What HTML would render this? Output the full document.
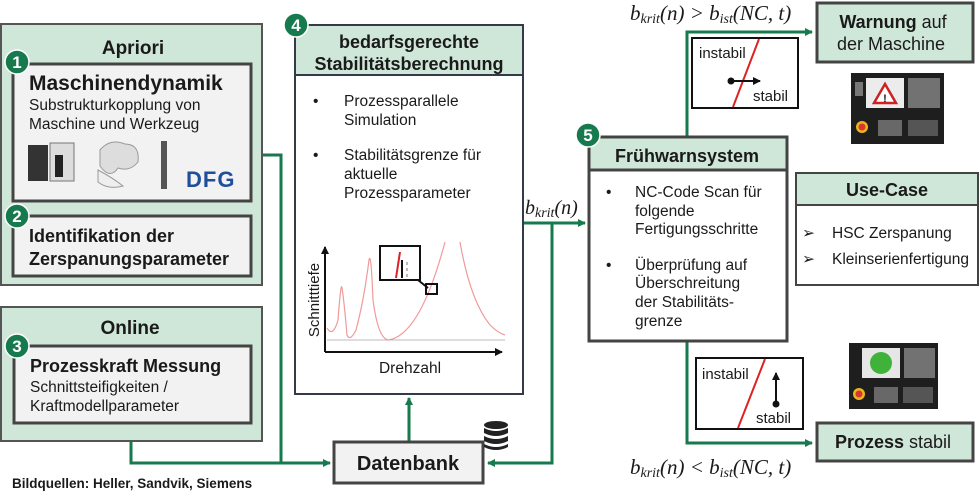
<!DOCTYPE html>
<html><head><meta charset="utf-8"><style>
html,body{margin:0;padding:0;background:#fff;width:980px;height:494px;overflow:hidden}
svg{display:block}
text{font-family:"Liberation Sans",sans-serif;fill:#1a1a1a}
.b{font-weight:bold}
.m{font-family:"Liberation Serif",serif;font-style:italic}
</style></head><body>
<svg width="980" height="494" viewBox="0 0 980 494" xmlns="http://www.w3.org/2000/svg">
<defs>
<marker id="ar" markerWidth="8" markerHeight="8" refX="7" refY="4" orient="auto" markerUnits="userSpaceOnUse">
<path d="M0,0 L8,4 L0,8 z" fill="#177a4e"/></marker>
<marker id="ak" markerWidth="8" markerHeight="8" refX="7" refY="4" orient="auto" markerUnits="userSpaceOnUse">
<path d="M0,0 L8,4 L0,8 z" fill="#111"/></marker>
</defs>

<!-- connectors -->
<g stroke="#177a4e" stroke-width="3" fill="none">
<polyline points="262,155 281,155 281,463 330,463" marker-end="url(#ar)"/>
<polyline points="131,441 131,463 281,463"/>
<polyline points="409,442 409,398" marker-end="url(#ar)"/>
<polyline points="523,223 585,223" marker-end="url(#ar)"/>
<polyline points="552,223 552,463 488,463" marker-end="url(#ar)"/>
<polyline points="687,137 687,32 812,32" marker-end="url(#ar)"/>
<polyline points="687,341 687,443 812,443" marker-end="url(#ar)"/>
</g>

<!-- Apriori -->
<rect x="1" y="24" width="261" height="261" fill="#cfe7d8" stroke="#555" stroke-width="2"/>
<text x="133" y="54" class="b" font-size="19" text-anchor="middle">Apriori</text>
<rect x="13" y="64" width="238" height="137" fill="#f2f2f2" stroke="#444" stroke-width="3"/>
<text x="29" y="90" class="b" font-size="21">Maschinendynamik</text>
<text x="29" y="110" font-size="15.5">Substrukturkopplung von</text>
<text x="29" y="129" font-size="15.5">Maschine und Werkzeug</text>
<!-- machine image -->
<rect x="28" y="145" width="20" height="36" fill="#333"/>
<rect x="50" y="143" width="24" height="38" fill="#ddd" stroke="#777"/>
<rect x="55" y="155" width="8" height="22" fill="#222"/>
<path d="M100,150 q10,-12 25,-6 q15,0 13,18 q-8,10 -20,6 q-8,12 -18,-2 z" fill="#ddd" stroke="#999"/>
<path d="M98,170 q15,8 25,16 q-15,4 -25,-4 z" fill="#eee" stroke="#999"/>
<rect x="161" y="141" width="6" height="48" fill="#555"/>
<text x="186" y="187" class="b" font-size="22" style="fill:#1f4f9a;letter-spacing:1px">DFG</text>
<rect x="13" y="216" width="238" height="60" fill="#f2f2f2" stroke="#444" stroke-width="3"/>
<text x="29" y="242" class="b" font-size="18">Identifikation der</text>
<text x="29" y="265" class="b" font-size="18">Zerspanungsparameter</text>

<!-- Online -->
<rect x="1" y="307" width="261" height="134" fill="#cfe7d8" stroke="#555" stroke-width="2"/>
<text x="130" y="334" class="b" font-size="19" text-anchor="middle">Online</text>
<rect x="14" y="346" width="237" height="77" fill="#f2f2f2" stroke="#444" stroke-width="3"/>
<text x="30" y="372" class="b" font-size="18">Prozesskraft Messung</text>
<text x="30" y="392" font-size="15.5">Schnittsteifigkeiten /</text>
<text x="30" y="411" font-size="15.5">Kraftmodellparameter</text>

<!-- Box 4 -->
<rect x="295" y="25" width="228" height="369" fill="#fff" stroke="#333a48" stroke-width="2"/>
<rect x="295" y="25" width="228" height="50" fill="#cfe7d8" stroke="#333a48" stroke-width="2"/>
<text x="409" y="48" class="b" font-size="18" text-anchor="middle">bedarfsgerechte</text>
<text x="409" y="70" class="b" font-size="18" text-anchor="middle">Stabilitätsberechnung</text>
<g font-size="15.5">
<text x="313" y="106">•</text><text x="344" y="106">Prozessparallele</text><text x="344" y="125">Simulation</text>
<text x="313" y="160">•</text><text x="344" y="160">Stabilitätsgrenze für</text><text x="344" y="179">aktuelle</text><text x="344" y="198">Prozessparameter</text>
</g>
<!-- chart -->
<line x1="327" y1="340" x2="505" y2="340" stroke="#bbb" stroke-width="1"/>
<path d="M327,328 Q333,338 338,320 Q341,280 342,288 Q344,300 347,335 Q350,342 356,330 Q364,300 369,260 Q371,250 373,300 Q378,338 388,340 Q420,336 445,242 M460,242 Q470,300 490,325 Q498,333 505,335" fill="none" stroke="#f09a9a" stroke-width="1.2"/>
<line x1="325" y1="352" x2="325" y2="247" stroke="#111" stroke-width="2" marker-end="url(#ak)"/>
<line x1="325" y1="352" x2="502" y2="352" stroke="#111" stroke-width="2" marker-end="url(#ak)"/>
<rect x="380" y="246" width="40" height="34" fill="#fff" stroke="#111" stroke-width="2"/>
<path d="M400,252 L396,278" stroke="#d22" stroke-width="2"/>
<line x1="402" y1="260" x2="402" y2="278" stroke="#111" stroke-width="2"/>
<line x1="407" y1="262" x2="407" y2="278" stroke="#777" stroke-dasharray="3,3"/>
<line x1="418" y1="280" x2="428" y2="288" stroke="#111" stroke-width="2"/>
<rect x="426" y="284" width="11" height="10" fill="none" stroke="#111" stroke-width="2"/>
<text x="410" y="373" font-size="15.5" text-anchor="middle">Drehzahl</text>
<text x="0" y="0" font-size="15" text-anchor="middle" transform="translate(319,300) rotate(-90)">Schnitttiefe</text>

<!-- Datenbank -->
<rect x="334" y="442" width="149" height="41" fill="#f2f2f2" stroke="#444" stroke-width="3"/>
<text x="408" y="470" class="b" font-size="20" text-anchor="middle">Datenbank</text>
<g fill="#222">
<ellipse cx="496" cy="425" rx="12" ry="4"/>
<path d="M484,428 q12,6 24,0 v5 q-12,6 -24,0 z"/>
<path d="M484,436 q12,6 24,0 v5 q-12,6 -24,0 z"/>
<path d="M484,444 q12,6 24,0 v3 q-12,6 -24,0 z"/>
</g>
<text x="12" y="488" font-size="13.5" style="font-weight:600">Bildquellen: Heller, Sandvik, Siemens</text>

<!-- right side -->
<text x="525" y="214" class="m" font-size="20">b<tspan font-size="14" dy="3">krit</tspan><tspan dy="-3">(n)</tspan></text>
<text x="630" y="20" class="m" font-size="21">b<tspan font-size="14" dy="3">krit</tspan><tspan dy="-3">(n) &gt; b</tspan><tspan font-size="14" dy="3">ist</tspan><tspan dy="-3">(NC, t)</tspan></text>
<text x="630" y="474" class="m" font-size="21">b<tspan font-size="14" dy="3">krit</tspan><tspan dy="-3">(n) &lt; b</tspan><tspan font-size="14" dy="3">ist</tspan><tspan dy="-3">(NC, t)</tspan></text>

<rect x="817" y="3" width="156" height="59" fill="#cfe7d8" stroke="#444" stroke-width="3"/>
<text x="893" y="28" font-size="18" text-anchor="middle"><tspan class="b">Warnung</tspan> auf</text>
<text x="891" y="50" font-size="18" text-anchor="middle">der Maschine</text>

<rect x="692" y="38" width="106" height="70" fill="#fff" stroke="#111" stroke-width="2"/>
<line x1="759" y1="39" x2="733" y2="107" stroke="#d22" stroke-width="2"/>
<text x="699" y="58" font-size="15">instabil</text>
<circle cx="731" cy="81" r="3.5" fill="#111"/>
<line x1="731" y1="81" x2="760" y2="81" stroke="#111" stroke-width="2" marker-end="url(#ak)"/>
<text x="753" y="101" font-size="15">stabil</text>

<!-- panel top -->
<g>
<rect x="851" y="73" width="93" height="71" fill="#1e1e1e"/>
<rect x="866" y="78" width="38" height="30" fill="#ececec"/>
<path d="M885,84 L896,103 L874,103 z" fill="#fff" stroke="#c22" stroke-width="2.5"/>
<text x="885" y="102" font-size="11" text-anchor="middle" class="b">!</text>
<rect x="908" y="78" width="32" height="30" fill="#aaa" opacity="0.6"/>
<rect x="855" y="82" width="8" height="14" fill="#777"/>
<circle cx="862" cy="127" r="6" fill="#e8b71c"/><circle cx="862" cy="127" r="3.5" fill="#d33"/>
<rect x="878" y="120" width="24" height="16" fill="#888" opacity="0.7"/>
<rect x="908" y="120" width="30" height="16" fill="#555"/>
</g>

<!-- Frühwarnsystem -->
<rect x="589" y="137" width="198" height="204" fill="#fff" stroke="#444" stroke-width="3"/>
<rect x="589" y="137" width="198" height="33" fill="#cfe7d8" stroke="#444" stroke-width="3"/>
<text x="687" y="162" class="b" font-size="18" text-anchor="middle">Frühwarnsystem</text>
<g font-size="15.5">
<text x="606" y="197">•</text><text x="635" y="197">NC-Code Scan für</text><text x="635" y="216">folgende</text><text x="635" y="234">Fertigungsschritte</text>
<text x="606" y="270">•</text><text x="635" y="270">Überprüfung auf</text><text x="635" y="288">Überschreitung</text><text x="635" y="307">der Stabilitäts-</text><text x="635" y="326">grenze</text>
</g>

<!-- Use-Case -->
<rect x="796" y="173" width="182" height="112" fill="#fff" stroke="#444" stroke-width="2"/>
<rect x="796" y="173" width="182" height="32" fill="#cfe7d8" stroke="#444" stroke-width="2"/>
<text x="887" y="196" class="b" font-size="18" text-anchor="middle">Use-Case</text>
<g font-size="15.5"><text x="802" y="238">➢</text><text x="832" y="238">HSC Zerspanung</text>
<text x="802" y="264">➢</text><text x="832" y="264">Kleinserienfertigung</text></g>

<!-- bottom instabil -->
<rect x="696" y="358" width="107" height="71" fill="#fff" stroke="#111" stroke-width="2"/>
<line x1="765" y1="359" x2="738" y2="428" stroke="#d22" stroke-width="2"/>
<text x="702" y="379" font-size="15">instabil</text>
<circle cx="776" cy="404" r="3.5" fill="#111"/>
<line x1="776" y1="404" x2="776" y2="373" stroke="#111" stroke-width="2" marker-end="url(#ak)"/>
<text x="756" y="423" font-size="15">stabil</text>

<!-- panel bottom -->
<g>
<rect x="849" y="343" width="89" height="66" fill="#1e1e1e"/>
<rect x="862" y="348" width="38" height="30" fill="#e6e6e6"/>
<circle cx="881" cy="363" r="11" fill="#3fb23a"/>
<rect x="904" y="348" width="31" height="30" fill="#aaa" opacity="0.6"/>
<circle cx="859" cy="394" r="6" fill="#e8b71c"/><circle cx="859" cy="394" r="3.5" fill="#d33"/>
<rect x="874" y="387" width="24" height="16" fill="#888" opacity="0.7"/>
<rect x="903" y="387" width="30" height="16" fill="#555"/>
</g>

<rect x="817" y="423" width="156" height="38" fill="#cfe7d8" stroke="#444" stroke-width="3"/>
<text x="893" y="448" font-size="18" text-anchor="middle"><tspan class="b">Prozess</tspan> stabil</text>

<!-- badges -->
<g font-size="17" class="b" text-anchor="middle">
<circle cx="17" cy="62" r="12" fill="#177a4e" stroke="#fff" stroke-width="1.5"/><text x="17" y="68" style="fill:#fff">1</text>
<circle cx="17" cy="216" r="12" fill="#177a4e" stroke="#fff" stroke-width="1.5"/><text x="17" y="222" style="fill:#fff">2</text>
<circle cx="17" cy="346" r="12" fill="#177a4e" stroke="#fff" stroke-width="1.5"/><text x="17" y="352" style="fill:#fff">3</text>
<circle cx="296" cy="25" r="12" fill="#177a4e" stroke="#fff" stroke-width="1.5"/><text x="296" y="31" style="fill:#fff">4</text>
<circle cx="588" cy="135" r="12" fill="#177a4e" stroke="#fff" stroke-width="1.5"/><text x="588" y="141" style="fill:#fff">5</text>
</g>
</svg>
</body></html>
